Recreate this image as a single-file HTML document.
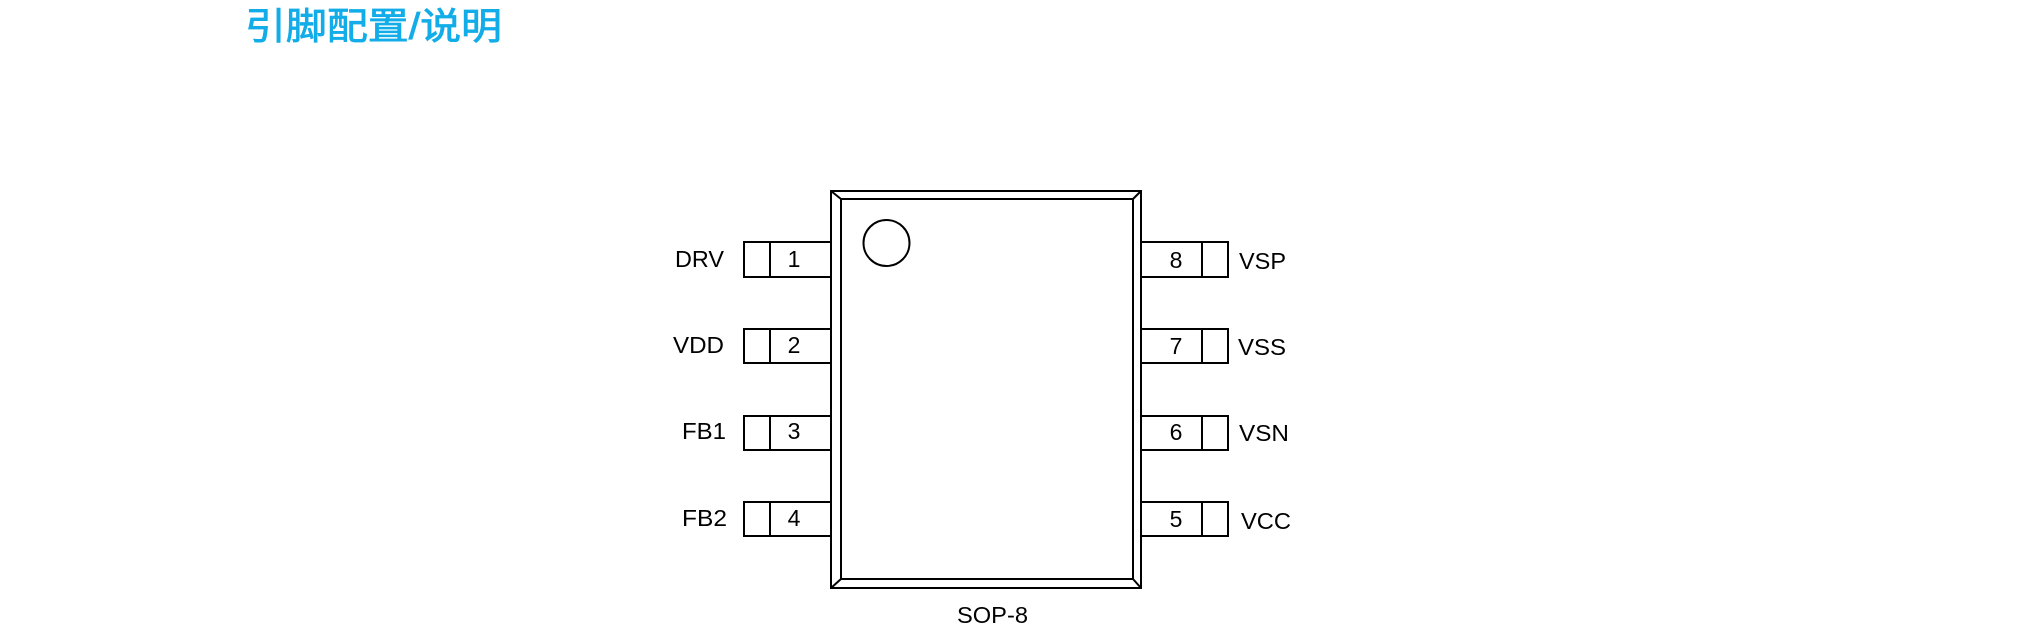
<!DOCTYPE html>
<html><head><meta charset="utf-8"><style>
html,body{margin:0;padding:0;background:#fff;width:2027px;height:642px;overflow:hidden}
</style></head><body>
<svg width="2027" height="642" viewBox="0 0 2027 642" xmlns="http://www.w3.org/2000/svg">
<text x="245" y="39" font-family="'Liberation Sans','Noto Sans CJK SC',sans-serif" font-size="37" fill="#12ade8" stroke="#12ade8" stroke-width="0.8" textLength="257" lengthAdjust="spacingAndGlyphs">引脚配置/说明</text>
<g fill="none" stroke="#000" stroke-width="2">
<rect x="831" y="191" width="310" height="397"/>
<rect x="841" y="199" width="292" height="380"/>
<line x1="831" y1="191" x2="841" y2="199"/>
<line x1="1141" y1="191" x2="1133" y2="199"/>
<line x1="831" y1="588" x2="841" y2="579"/>
<line x1="1141" y1="588" x2="1133" y2="579"/>
<ellipse cx="886.5" cy="243" rx="23" ry="23"/>
<rect x="744" y="242" width="87" height="35"/><line x1="770" y1="242" x2="770" y2="277"/>
<rect x="744" y="329" width="87" height="34"/><line x1="770" y1="329" x2="770" y2="363"/>
<rect x="744" y="416" width="87" height="34"/><line x1="770" y1="416" x2="770" y2="450"/>
<rect x="744" y="502" width="87" height="34"/><line x1="770" y1="502" x2="770" y2="536"/>
<rect x="1141" y="242" width="87" height="35"/><line x1="1202" y1="242" x2="1202" y2="277"/>
<rect x="1141" y="329" width="87" height="34"/><line x1="1202" y1="329" x2="1202" y2="363"/>
<rect x="1141" y="416" width="87" height="34"/><line x1="1202" y1="416" x2="1202" y2="450"/>
<rect x="1141" y="502" width="87" height="34"/><line x1="1202" y1="502" x2="1202" y2="536"/>
</g>
<g font-family="'Liberation Sans',sans-serif" font-size="23" fill="#000">
<text x="675" y="267" textLength="49" lengthAdjust="spacingAndGlyphs">DRV</text>
<text x="673" y="353" textLength="51" lengthAdjust="spacingAndGlyphs">VDD</text>
<text x="682" y="439" textLength="44" lengthAdjust="spacingAndGlyphs">FB1</text>
<text x="682" y="526" textLength="45" lengthAdjust="spacingAndGlyphs">FB2</text>
<text x="1239" y="269" textLength="47" lengthAdjust="spacingAndGlyphs">VSP</text>
<text x="1238" y="355" textLength="48" lengthAdjust="spacingAndGlyphs">VSS</text>
<text x="1239" y="441" textLength="50" lengthAdjust="spacingAndGlyphs">VSN</text>
<text x="1241" y="529" textLength="50" lengthAdjust="spacingAndGlyphs">VCC</text>
<g text-anchor="middle">
<text x="794" y="267">1</text><text x="794" y="353">2</text><text x="794" y="439">3</text><text x="794" y="526">4</text>
<text x="1176" y="268">8</text><text x="1176" y="354">7</text><text x="1176" y="440">6</text><text x="1176" y="527">5</text>
</g>
<text x="957" y="623" font-size="23" textLength="71" lengthAdjust="spacingAndGlyphs">SOP-8</text>
</g>
</svg>
</body></html>
